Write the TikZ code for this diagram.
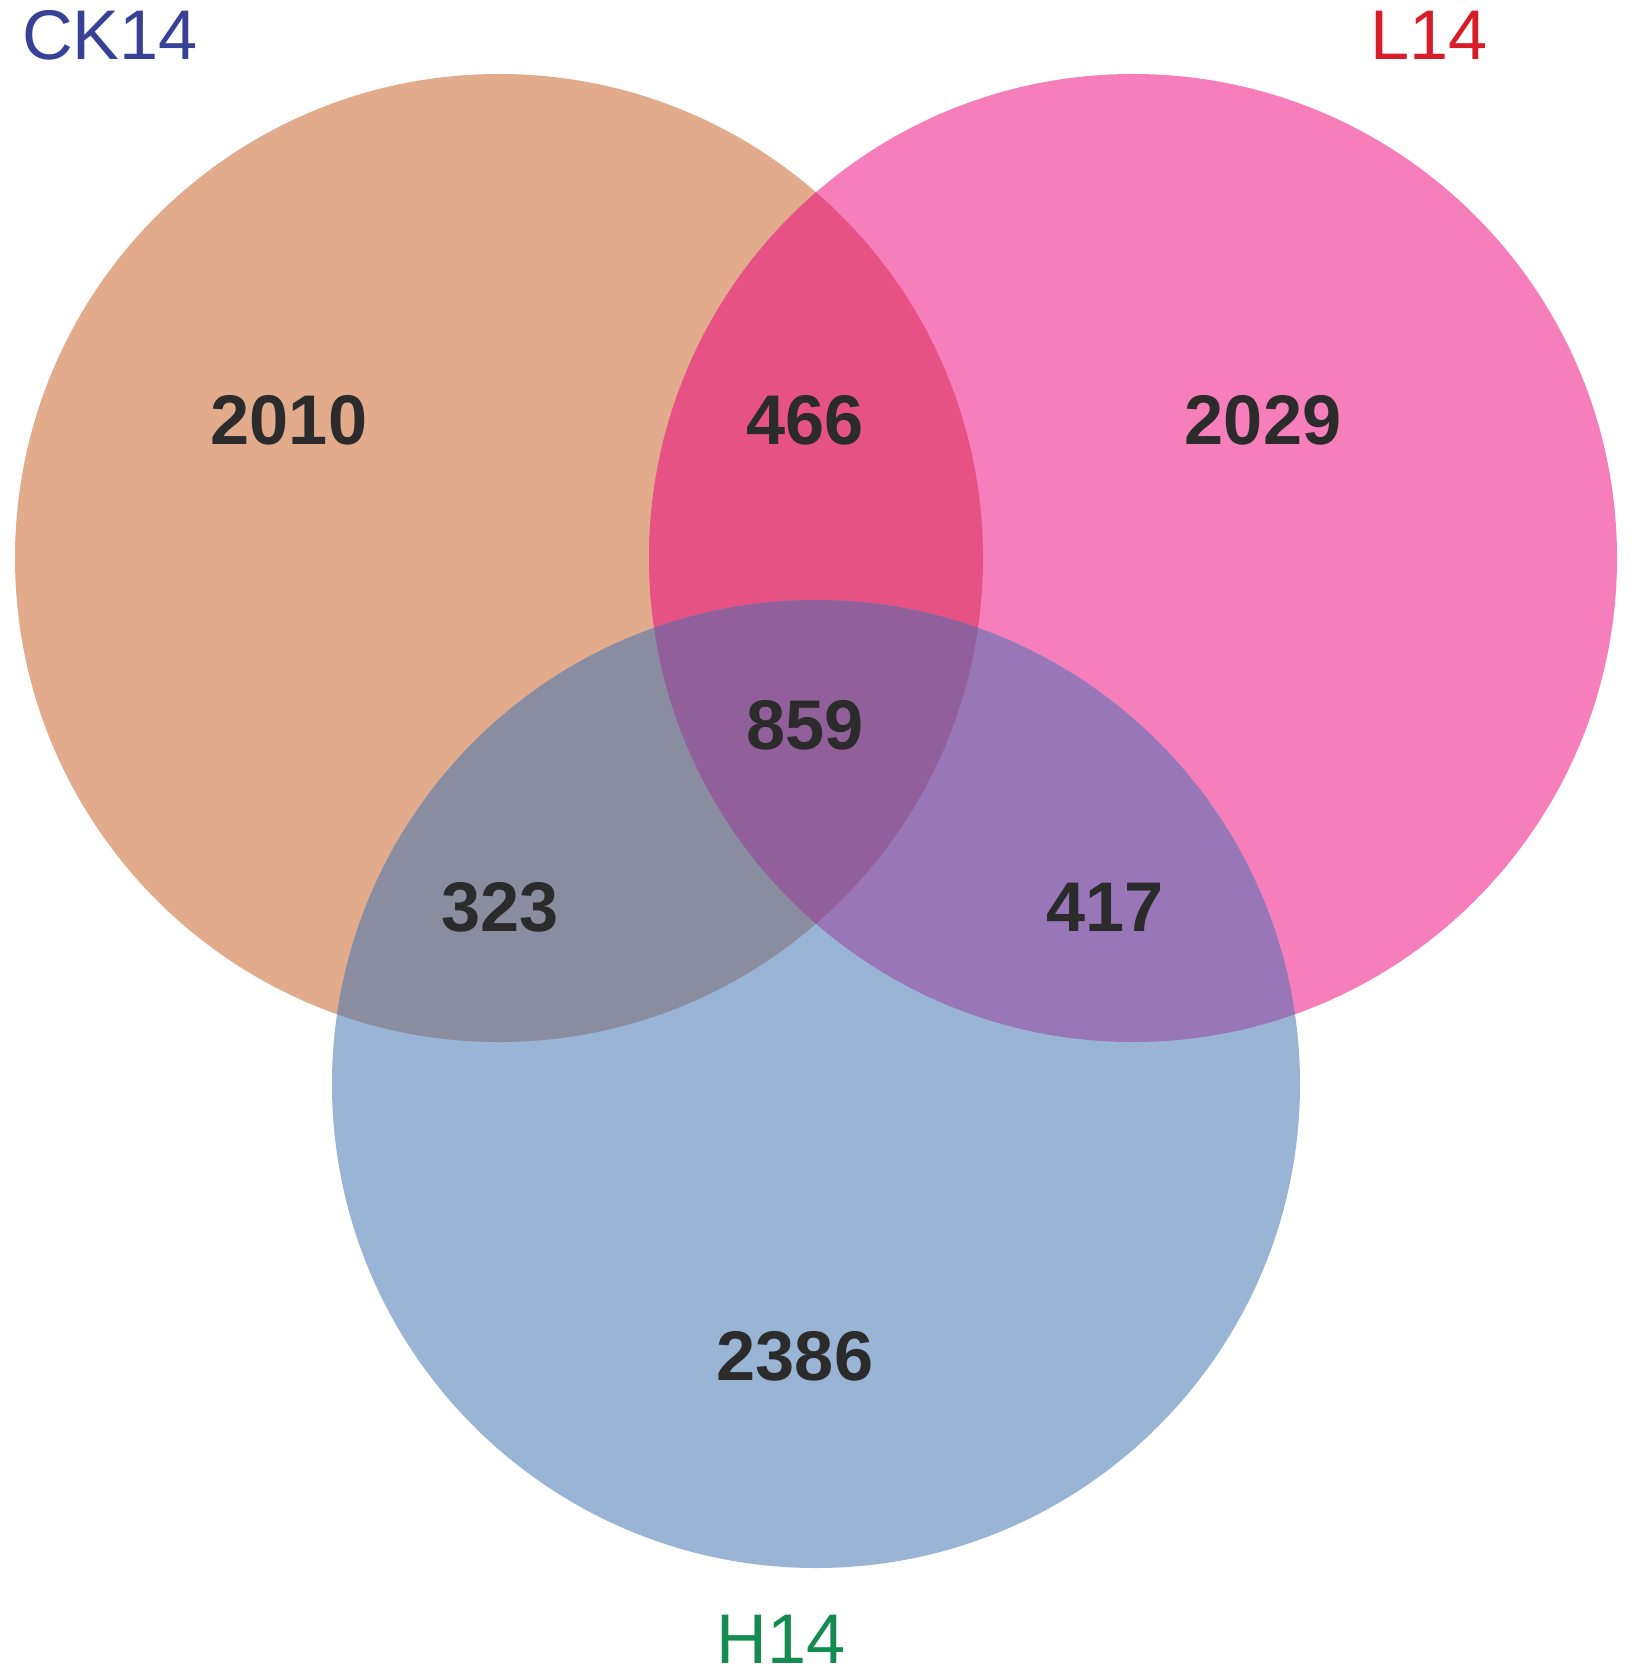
\documentclass[tikz,border=0pt]{standalone}
\usepackage{fontspec}
\setmainfont{Liberation Sans}
\usepackage{xcolor}
\usepackage{tikz}
\usetikzlibrary{positioning}
\definecolor{ckfill}{RGB}{225, 171, 140}
\definecolor{lfill}{RGB}{246, 126, 187}
\definecolor{hfill}{RGB}{154, 180, 214}
\definecolor{cklfill}{RGB}{231, 82, 132}
\definecolor{ckhfill}{RGB}{138, 140, 160}
\definecolor{lhfill}{RGB}{152, 118, 184}
\definecolor{allfill}{RGB}{145, 96, 155}
\definecolor{countgray}{RGB}{43, 43, 43}
\definecolor{ckblue}{RGB}{55, 65, 150}
\definecolor{lred}{RGB}{215, 30, 40}
\definecolor{hgreen}{RGB}{20, 140, 80}

\begin{document}
\begin{tikzpicture}[
    count/.style={
        font=\fontsize{20}{24}\selectfont\bfseries,
        text=countgray,
        inner sep=0pt
    },
    setlabel/.style={
        font=\fontsize{20}{24}\selectfont,
        inner sep=0pt
    }
]
    \useasboundingbox (0,0) rectangle (16.33,-16.78);

    % Circle centres
    \coordinate (ck) at (4.99,-5.58);
    \coordinate (l) at (11.33,-5.58);
    \coordinate (h) at (8.16,-10.84);
    \def\rad{4.84}

    % Single sets
    \fill[ckfill] (ck) circle (\rad);
    \fill[lfill] (l) circle (\rad);
    \fill[hfill] (h) circle (\rad);

    % Pairwise overlaps
    \begin{scope}
        \clip (ck) circle (\rad);
        \fill[cklfill] (l) circle (\rad);
        \fill[ckhfill] (h) circle (\rad);
    \end{scope}
    \begin{scope}
        \clip (l) circle (\rad);
        \fill[lhfill] (h) circle (\rad);
    \end{scope}

    % Triple overlap
    \begin{scope}
        \clip (ck) circle (\rad);
        \clip (l) circle (\rad);
        \fill[allfill] (h) circle (\rad);
    \end{scope}

    % Set names
    \node[setlabel, text=ckblue] (cklabel) at (1.10,-0.35) {CK14};
    \node[setlabel, text=lred] (llabel) at (14.29,-0.35) {L14};
    \node[setlabel, text=hgreen] (hlabel) at (7.81,-16.39) {H14};

    % Counts
    \node[count] (ckonly) at (2.89,-4.20) {2010};
    \node[count] (ckl) at (8.05,-4.20) {466};
    \node[count] (lonly) at (12.63,-4.20) {2029};
    \node[count] (ckhl) at (8.05,-7.25) {859};
    \node[count] (ckh) at (5.00,-9.07) {323};
    \node[count] (lh) at (11.05,-9.07) {417};
    \node[count] (honly) at (7.95,-13.56) {2386};

\end{tikzpicture}
\end{document}
